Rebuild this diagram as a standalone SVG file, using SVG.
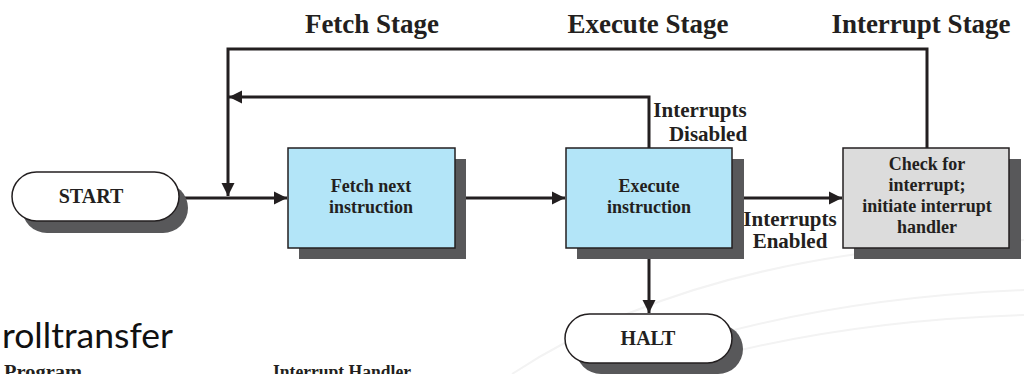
<svg xmlns="http://www.w3.org/2000/svg" width="1024" height="374" viewBox="0 0 1024 374">
<style>
.t{font-family:"Liberation Serif","Times New Roman",serif;font-weight:bold;fill:#231f20;text-anchor:middle}
.st{font-size:27px}
.bx{font-size:18px}
.lb{font-size:21px}
.cap{font-size:20px}
.box{stroke:#231f20;stroke-width:1.5}
.blue{fill:#b3e5f8}
.grey{fill:#dcdcdc}
.shadow{fill:#58585a}
.cn{fill:none;stroke:#231f20;stroke-width:3}
.wm{fill:none;stroke:#f3f3f3;stroke-width:2}
</style>
<defs>
<marker id="arr" markerUnits="userSpaceOnUse" markerWidth="14" markerHeight="14" refX="13" refY="7" orient="auto">
<path d="M0,0.5 L13,7 L0,13.5 Z" fill="#231f20"/>
</marker>
</defs>
<rect width="1024" height="374" fill="#ffffff"/>
<g id="watermark">
<path class="wm" d="M512,374 Q700,250 1024,240"/>
<path class="wm" d="M600,374 Q780,300 1024,290"/>
<path class="wm" d="M700,360 Q850,320 1024,315"/>
</g>
<g id="slide-text">
<text x="2" y="348" font-family="Lato,'Open Sans',sans-serif" font-size="34" fill="#111" textLength="171" lengthAdjust="spacingAndGlyphs">rolltransfer</text>
<text class="t" x="4" y="378" font-size="18" style="text-anchor:start" textLength="78" lengthAdjust="spacingAndGlyphs">Program</text>
<text class="t" x="273" y="378" font-size="18" style="text-anchor:start" textLength="138" lengthAdjust="spacingAndGlyphs">Interrupt Handler</text>
</g>
<g id="stage-labels">
<text class="t st" x="372" y="33">Fetch Stage</text>
<text class="t st" x="648" y="33">Execute Stage</text>
<text class="t st" x="921" y="33">Interrupt Stage</text>
</g>
<g id="connectors">
<path class="cn" d="M927,148 V49 H228 V196" marker-end="url(#arr)"/>
<path class="cn" d="M649,148 V97 H229" marker-end="url(#arr)"/>
<path class="cn" d="M179,198 H287" marker-end="url(#arr)"/>
<path class="cn" d="M455,198 H565" marker-end="url(#arr)"/>
<path class="cn" d="M732,198 H842" marker-end="url(#arr)"/>
<path class="cn" d="M649,248 V313" marker-end="url(#arr)"/>
<text class="t lb" x="700" y="117">Interrupts</text>
<text class="t lb" x="708" y="141">Disabled</text>
<text class="t lb" x="790" y="226">Interrupts</text>
<text class="t lb" x="790" y="248">Enabled</text>
</g>
<g id="start">
<rect class="shadow" x="22" y="183" width="166" height="50" rx="25"/>
<rect class="box" x="12" y="172" width="167" height="49" rx="24.5" fill="#ffffff"/>
<text class="t cap" x="91" y="203">START</text>
</g>
<g id="fetch">
<rect class="shadow" x="299" y="159" width="167" height="100"/>
<rect class="box blue" x="288" y="148" width="167" height="100"/>
<text class="t bx" x="371" y="192">Fetch next</text>
<text class="t bx" x="371" y="213">instruction</text>
</g>
<g id="execute">
<rect class="shadow" x="577" y="159" width="167" height="100"/>
<rect class="box blue" x="566" y="148" width="166" height="100"/>
<text class="t bx" x="649" y="192">Execute</text>
<text class="t bx" x="649" y="213">instruction</text>
</g>
<g id="check">
<rect class="shadow" x="854" y="159" width="167" height="100"/>
<rect class="box grey" x="843" y="148" width="166" height="100"/>
<text class="t bx" x="927" y="170">Check for</text>
<text class="t bx" x="927" y="191">interrupt;</text>
<text class="t bx" x="927" y="212">initiate interrupt</text>
<text class="t bx" x="927" y="233">handler</text>
</g>
<g id="halt">
<rect class="shadow" x="576" y="324" width="167" height="50" rx="25"/>
<rect class="box" x="565" y="314" width="167" height="49" rx="24.5" fill="#ffffff"/>
<text class="t cap" x="648" y="345">HALT</text>
</g>
</svg>
